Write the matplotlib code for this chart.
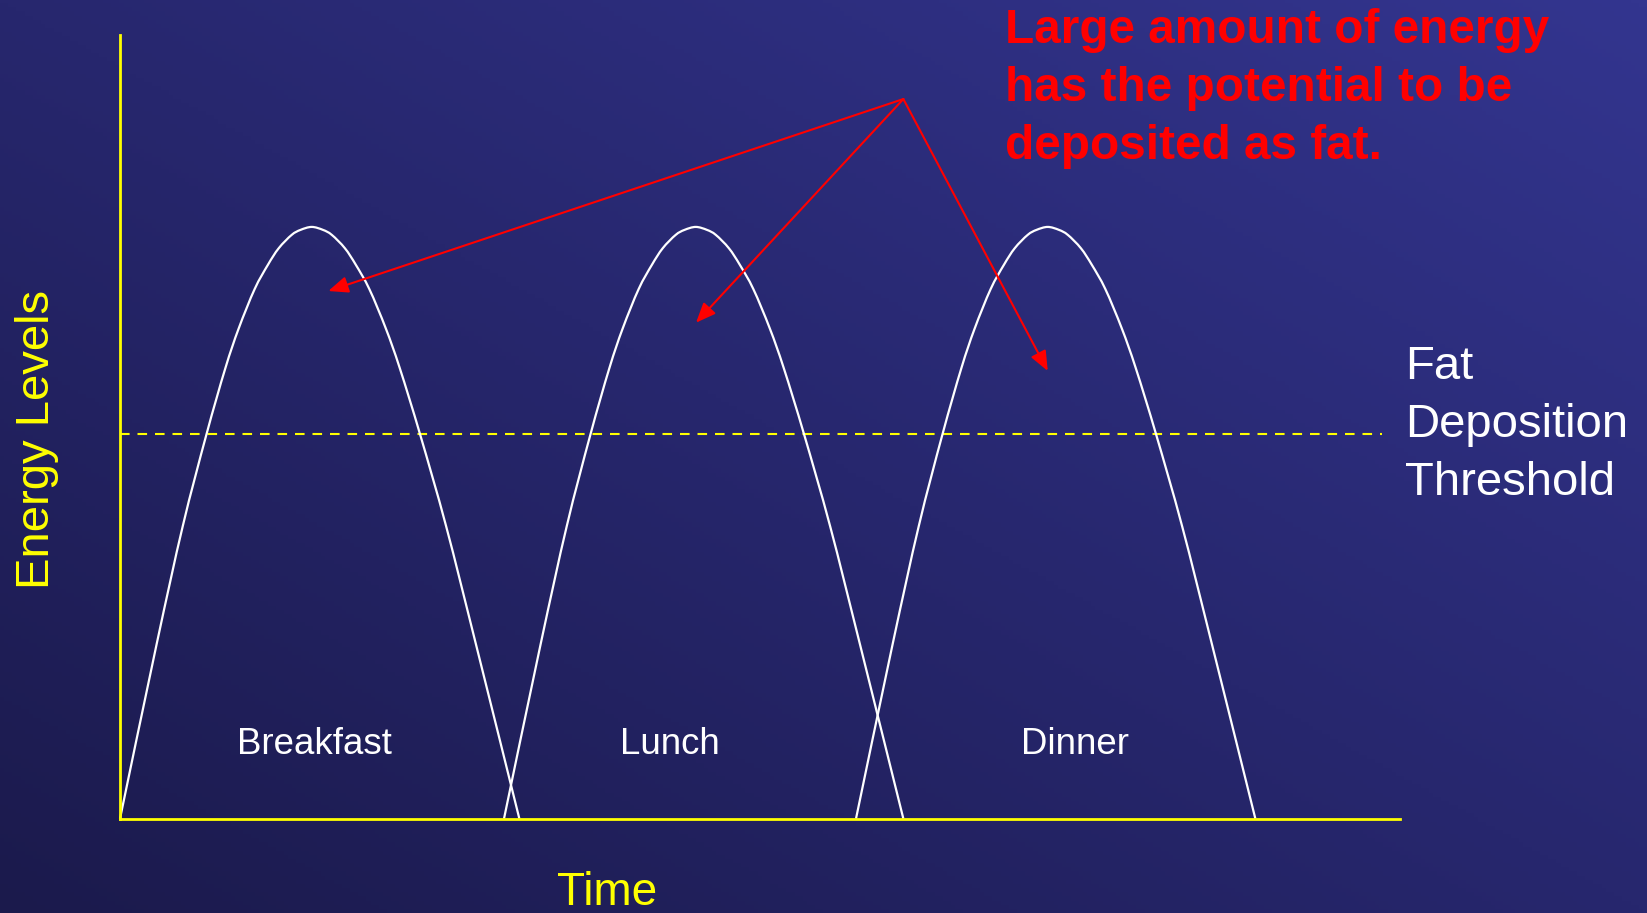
import numpy as np
import matplotlib
matplotlib.use("Agg")
import matplotlib.pyplot as plt
from matplotlib.colors import LinearSegmentedColormap
from matplotlib.path import Path
from matplotlib.patches import PathPatch

# energy curve readings (time and energy both in % of the axis span)
energy = [0.0, 22.18, 37.31, 49.01, 57.48, 62.54, 67.58, 70.66, 72.79, 74.49,
          75.13, 75.51, 75.13, 74.49, 72.79, 70.66, 67.58, 62.54, 57.48, 49.01,
          37.31, 22.18, 0.0]
breakfast_time = [0.0, 2.85, 4.90, 6.75, 8.23, 9.27, 10.52, 11.55, 12.40, 13.41,
                  14.10, 14.98, 15.86, 16.55, 17.57, 18.43, 19.48, 20.77, 21.86,
                  23.45, 25.48, 27.82, 31.20]
lunch_time = [30.0, 32.85, 34.90, 36.75, 38.23, 39.27, 40.52, 41.55, 42.40, 43.41,
              44.10, 44.98, 45.86, 46.55, 47.57, 48.43, 49.48, 50.77, 51.86,
              53.45, 55.48, 57.82, 61.20]
dinner_time = [57.5, 60.35, 62.40, 64.25, 65.73, 66.77, 68.02, 69.05, 69.90, 70.91,
               71.60, 72.48, 73.36, 74.05, 75.07, 75.93, 76.98, 78.27, 79.36,
               80.95, 82.98, 85.32, 88.70]
meal_names = ["Breakfast", "Lunch", "Dinner"]

threshold = 49.05
threshold_end = 98.57

arrow_tail = (61.2, 91.83)
arrow_tip_time = [16.27, 45.0, 72.48]
arrow_tip_energy = [67.33, 63.29, 57.13]

note_lines = ["Large amount of energy", "has the potential to be", "deposited as fat."]
threshold_lines = ["Fat", "Deposition", "Threshold"]

W, H = 1647, 913
YELLOW = "#ffff00"
RED = "#ff0000"
FONT = "Liberation Sans"

def fx(px):
    return px / W

def fy(py):
    return 1 - py / H

def smooth_path(xs, ys):
    # smooth freeform through the read points (catmull-rom as cubic beziers)
    pts = np.column_stack([xs, ys])
    ext = np.vstack([pts[0], pts, pts[-1]])
    verts = [pts[0]]
    codes = [Path.MOVETO]
    for i in range(1, len(ext) - 2):
        p0, p1, p2, p3 = ext[i - 1], ext[i], ext[i + 1], ext[i + 2]
        verts += [p1 + (p2 - p0) / 6, p2 - (p3 - p1) / 6, p2]
        codes += [Path.CURVE4] * 3
    return Path(verts, codes)

fig = plt.figure(figsize=(W / 100, H / 100), dpi=100)

# diagonal slide background, dark bottom-left to lighter top-right
bg = fig.add_axes([0, 0, 1, 1])
gx, gy = np.meshgrid(np.linspace(0, 1, 400), np.linspace(0, 1, 220))
grad = (gx + gy) / 2
cmap = LinearSegmentedColormap.from_list("slide", ["#1b1a4c", "#27276e", "#33358f"])
bg.imshow(grad, cmap=cmap, extent=[0, 1, 0, 1], aspect="auto", origin="lower",
          vmin=0, vmax=1)
bg.set_axis_off()

ax = fig.add_axes([fx(120), fy(818.7), fx(1280), 783.7 / H])
ax.set_facecolor("none")
ax.set_xlim(0, 100)
ax.set_ylim(0, 100)
ax.set_xticks([])
ax.set_yticks([])
for side in ["top", "right"]:
    ax.spines[side].set_visible(False)
for side in ["left", "bottom"]:
    ax.spines[side].set_color(YELLOW)
    ax.spines[side].set_linewidth(2)
    ax.spines[side].set_zorder(5)

for t in [breakfast_time, lunch_time, dinner_time]:
    ax.add_patch(PathPatch(smooth_path(t, energy), facecolor="none",
                           edgecolor="white", lw=1.6, clip_on=False, zorder=3))

ax.plot([0, threshold_end], [threshold, threshold], color=YELLOW, lw=1.5,
        dashes=(4.6, 3.8), zorder=2)

for tx, ty in zip(arrow_tip_time, arrow_tip_energy):
    ax.annotate("", xy=(tx, ty), xytext=arrow_tail,
                arrowprops=dict(arrowstyle="-|>,head_length=0.6,head_width=0.25",
                                color=RED, lw=1.5, mutation_scale=20,
                                shrinkA=0, shrinkB=0),
                zorder=4, annotation_clip=False)

# meal labels
label_px = [314, 670, 1075]
for name, px in zip(meal_names, label_px):
    fig.text(fx(px), fy(753.7), name, color="white", fontsize=26.4,
             family=FONT, ha="center", va="baseline")

# red note
for i, line in enumerate(note_lines):
    fig.text(fx(1005), fy(43.3 + i * 57.8), line, color=RED, fontsize=34.4,
             fontweight="bold", family=FONT, ha="left", va="baseline")

# threshold label
for i, line in enumerate(threshold_lines):
    fig.text(fx(1405), fy(379.3 + i * 57.8), line, color="white", fontsize=34,
             family=FONT, ha="left", va="baseline")

fig.text(fx(49.4), fy(439.2), "Energy Levels", color=YELLOW, fontsize=34,
         family=FONT, rotation=90, rotation_mode="anchor",
         ha="center", va="baseline")
fig.text(fx(607.5), fy(905), "Time", color=YELLOW, fontsize=33,
         family=FONT, ha="center", va="baseline")

fig.savefig("out.png", dpi=100)
